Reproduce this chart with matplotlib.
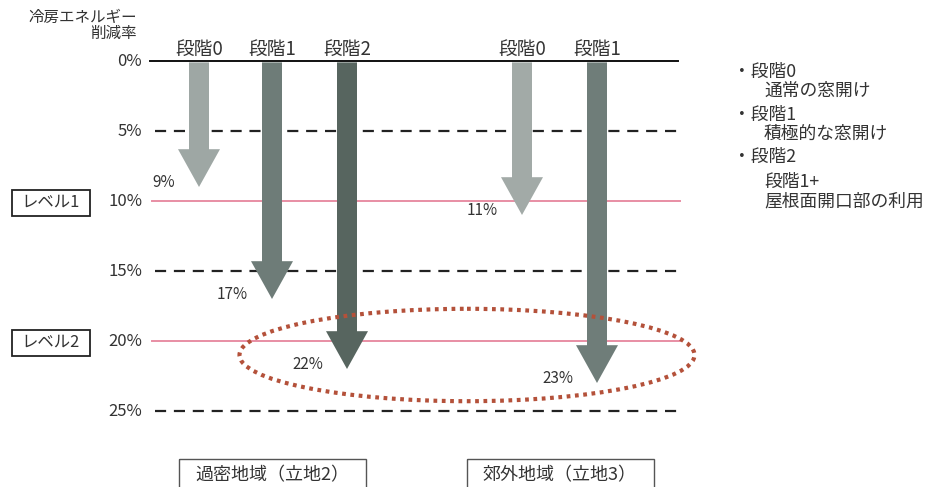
import matplotlib
matplotlib.use('Agg')
import matplotlib.pyplot as plt
from matplotlib.patches import Rectangle, Ellipse

plt.rcParams['font.family'] = ['Noto Sans CJK JP', 'DejaVu Sans']

# ---- data ----
stage_labels = ['段階0', '段階1', '段階2', '段階0', '段階1']
reductions = [9, 17, 22, 11, 23]          # 冷房エネルギー削減率 (%)
arrow_x = [199, 272, 347, 522, 597]       # 横位置 (px)
arrow_colors = ['#9ea7a4', '#6e7c78', '#57655f', '#a2aaa7', '#6f7d79']
ticks = [0, 5, 10, 15, 20, 25]
tick_labels = ['0%', '5%', '10%', '15%', '20%', '25%']
levels = {'レベル1': 10, 'レベル2': 20}
regions = ['過密地域（立地2）', '郊外地域（立地3）']
legend_lines = [('・段階0', 0), ('通常の窓開け', 1), ('・段階1', 0), ('積極的な窓開け', 1),
                ('・段階2', 0), ('段階1+', 1), ('屋根面開口部の利用', 1)]

# ---- figure: x in pixels, y in percent (14 px per 1%) ----
fig = plt.figure(figsize=(9.25, 4.87), dpi=100)
ax = fig.add_axes([0, 0, 1, 1])
ax.set_xlim(0, 925)
ax.set_ylim((487 - 61) / 14, -61 / 14)
ax.axis('off')

txt = '#333333'
x0, x1 = 152, 680

# grid lines
for t, lab in zip(ticks, tick_labels):
    if t == 0:
        ax.plot([x0 - 2, x1 - 2], [t, t], color='#111111', lw=1.4, zorder=1)
    elif t in levels.values():
        ax.plot([x0, x1], [t, t], color='#e88ea4', lw=1.4, zorder=1)
    else:
        ax.plot([x0 + 3, x1], [t, t], color='#222222', lw=1.6,
                linestyle=(0, (5, 3.5)), zorder=1)
    ax.text(142, t, lab, ha='right', va='center', fontsize=12, color=txt)

ax.text(137, -3.1, '冷房エネルギー', ha='right', va='center', fontsize=11.2, color=txt)
ax.text(137, -1.95, '削減率', ha='right', va='center', fontsize=11.2, color=txt)

# level boxes
for lab, v in levels.items():
    ax.add_patch(Rectangle((12, v - 0.8), 78, 1.85, fill=False, ec='#222222', lw=1.3))
    ax.text(51, v + 0.1, lab, ha='center', va='center', fontsize=11.8, color=txt)

# arrows
for lab, v, x, c in zip(stage_labels, reductions, arrow_x, arrow_colors):
    ax.arrow(x, 0.1, 0, v - 0.1, width=20, head_width=42, head_length=2.7,
             length_includes_head=True, fc=c, ec='none', zorder=3)
    ax.text(x, -0.85, lab, ha='center', va='center', fontsize=13.5, color=txt)
    ax.text(x - 24, v - 0.35, f'{v}%', ha='right', va='center', fontsize=11, color=txt)

# dotted ellipse
ax.add_patch(Ellipse((467, 21.0), 455, 6.6, fill=False, ec='#b4513a',
                     lw=3, linestyle=(0, (0.9, 1.1)), zorder=4))

# legend text
legend_y = [72, 91, 115, 134, 157, 182, 201]
for (s, ind), yp in zip(legend_lines, legend_y):
    ax.text(733 + 31 * ind, (yp - 61) / 14, s, ha='left', va='center',
            fontsize=12.8, color=txt)

# region boxes
for lab, bx in zip(regions, [179, 467]):
    ax.add_patch(Rectangle((bx, (459 - 61) / 14), 187, 3.0, fill=False,
                           ec='#555555', lw=1.0))
    ax.text(bx + 93, (475 - 61) / 14, lab, ha='center', va='center',
            fontsize=13, color=txt)

fig.savefig('out.png', dpi=100)
